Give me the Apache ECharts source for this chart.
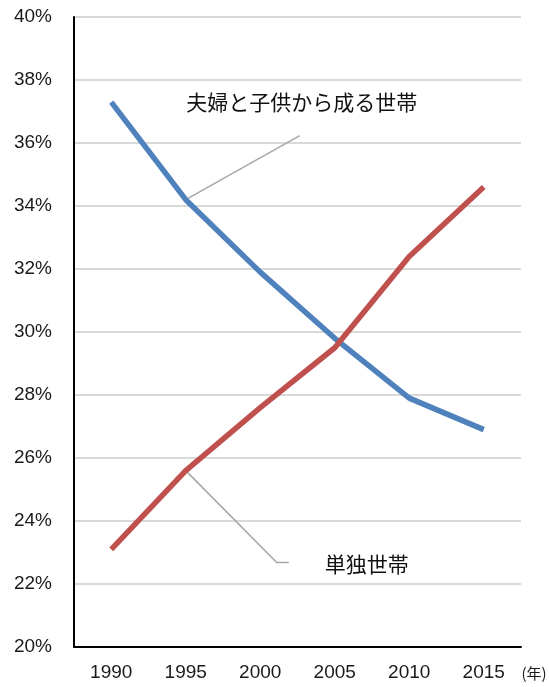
<!DOCTYPE html>
<html>
<head>
<meta charset="utf-8">
<script src="https://cdn.jsdelivr.net/npm/echarts@6/dist/echarts.min.js"></script>
<style>
  html, body { margin: 0; padding: 0; background: #fff; }
  #chart { width: 549px; height: 687px; }
</style>
</head>
<body>
<div id="chart"></div>
<script>
// Census years and household shares (%)
const years = ['1990', '1995', '2000', '2005', '2010', '2015'];
const coupleWithChildren = [37.3, 34.2, 31.9, 29.8, 27.9, 26.9];
const singlePerson = [23.1, 25.6, 27.6, 29.5, 32.4, 34.6];
const coupleLabel = '夫婦と子供から成る世帯';
const singleLabel = '単独世帯';
const yearUnit = '(年)';

const FONT = '"Liberation Sans", Arial, "Noto Sans CJK JP", sans-serif';
const JP_FONT = '"Noto Sans CJK JP", "Liberation Sans", sans-serif';

const chart = echarts.init(document.getElementById('chart'), null, { renderer: 'canvas' });

chart.setOption({
  animation: false,
  backgroundColor: '#ffffff',
  grid: { left: 74, top: 17, right: 28, bottom: 40, containLabel: false },
  xAxis: {
    type: 'category',
    data: years,
    boundaryGap: true,
    axisLine: { show: true, lineStyle: { color: '#000', width: 2 } },
    axisTick: { show: false },
    axisLabel: { color: '#1a1a1a', fontSize: 19, fontFamily: FONT, margin: 16 }
  },
  yAxis: {
    type: 'value',
    min: 20,
    max: 40,
    interval: 2,
    axisLine: { show: true, lineStyle: { color: '#000', width: 2 } },
    axisTick: { show: false },
    splitLine: { lineStyle: { color: '#d9d9d9', width: 2 } },
    axisLabel: {
      color: '#1a1a1a', fontSize: 19, fontFamily: FONT, margin: 22,
      formatter: v => v + '%'
    }
  },
  series: [
    {
      name: coupleLabel,
      type: 'line',
      data: coupleWithChildren,
      symbol: 'none',
      lineStyle: { color: '#4f81bd', width: 5.5 },
      itemStyle: { color: '#4f81bd' },
      z: 3
    },
    {
      name: singleLabel,
      type: 'line',
      data: singlePerson,
      symbol: 'none',
      lineStyle: { color: '#c0504d', width: 5.5 },
      itemStyle: { color: '#c0504d' },
      z: 4
    }
  ]
});

// Leader lines and series captions, anchored on the 1995 points
function drawCallouts() {
  const pb = chart.convertToPixel({ seriesIndex: 0 }, [years[1], coupleWithChildren[1]]);
  const pr = chart.convertToPixel({ seriesIndex: 1 }, [years[1], singlePerson[1]]);
  chart.setOption({
    graphic: [
      {
        type: 'polyline',
        shape: { points: [pb, [pb[0] + 114, pb[1] - 64]] },
        style: { stroke: '#a6a6a6', lineWidth: 1.5, fill: null },
        z: 2
      },
      {
        type: 'text',
        x: pb[0] + 116, y: pb[1] - 98,
        style: {
          text: coupleLabel, fill: '#111', font: '21px ' + JP_FONT,
          align: 'center', verticalAlign: 'middle'
        }
      },
      {
        type: 'polyline',
        shape: { points: [pr, [pr[0] + 91, pr[1] + 92], [pr[0] + 103, pr[1] + 92]] },
        style: { stroke: '#a6a6a6', lineWidth: 1.5, fill: null },
        z: 2
      },
      {
        type: 'text',
        x: pr[0] + 181, y: pr[1] + 93,
        style: {
          text: singleLabel, fill: '#111', font: '21px ' + JP_FONT,
          align: 'center', verticalAlign: 'middle'
        }
      },
      {
        type: 'text',
        x: 534, y: 673,
        style: {
          text: yearUnit, fill: '#1a1a1a', font: '15px ' + JP_FONT,
          align: 'center', verticalAlign: 'middle'
        }
      }
    ]
  });
}
drawCallouts();
</script>
</body>
</html>
